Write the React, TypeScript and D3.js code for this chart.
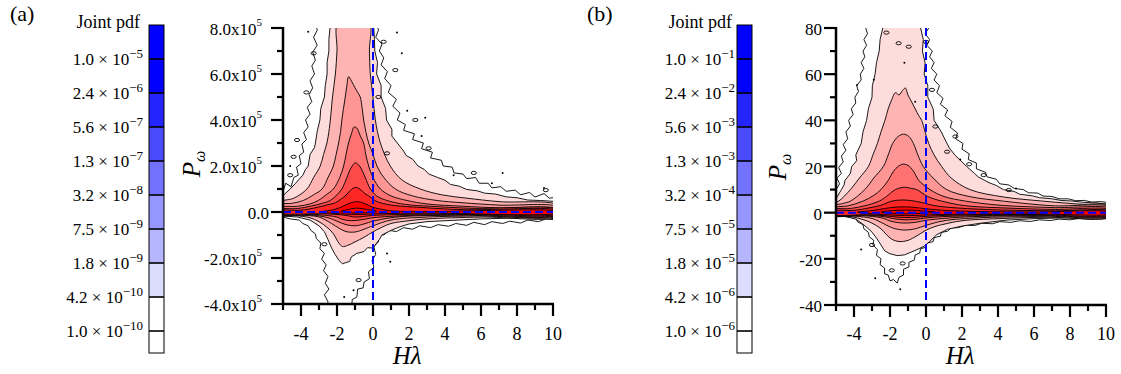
import * as d3 from 'd3'

type Pt = [number, number]

const FONT = 'Liberation Serif, DejaVu Serif, serif'

// contour fills, outermost level first (the outer level is white)
const levelFills = ['#ffffff', '#ffdcdc', '#ffb4b4', '#ff9696', '#ff7272', '#ff4a4a', '#ff2626', '#ff0000', '#ff0000']

// colour bar, top segment first
const barColors = ['#0000ff', '#0000ff', '#2424ff', '#4a4aff', '#7272ff', '#9696ff', '#b6b6ff', '#dcdcff', '#ffffff', '#ffffff']
const barMantissas = ['1.0', '2.4', '5.6', '1.3', '3.2', '7.5', '1.8', '4.2', '1.0']
const barExponentsA = ['−5', '−6', '−7', '−7', '−8', '−9', '−9', '−10', '−10']
const barExponentsB = ['−1', '−2', '−3', '−3', '−4', '−5', '−5', '−6', '−6']

const hTicks = [-5, -4, -3, -2, -1, 0, 1, 2, 3, 4, 5, 6, 7, 8, 9, 10]
const hLabels = ['-4', '-2', '0', '2', '4', '6', '8', '10']
const hLabelValues = [-4, -2, 0, 2, 4, 6, 8, 10]

// panel (a): P in units of 1e5
const aYTicks = [-4, -3, -2, -1, 0, 1, 2, 3, 4, 5, 6, 7, 8]
const aYLabelValues = [-4, -2, 0, 2, 4, 6, 8]
const aYLabels = ['-4.0x10', '-2.0x10', '0.0', '2.0x10', '4.0x10', '6.0x10', '8.0x10']
const aYExp = ['5', '5', '', '5', '5', '5', '5']

// panel (b)
const bYTicks = [-40, -30, -20, -10, 0, 10, 20, 30, 40, 50, 60, 70, 80]
const bYLabelValues = [-40, -20, 0, 20, 40, 60, 80]
const bYLabels = ['-40', '-20', '0', '20', '40', '60', '80']
const bYExp = ['', '', '', '', '', '', '']

// ---- panel (a) contour levels (Hλ, P/1e5) ----
const aL0: Pt[] = [[-5.3, -0.2], [-5.3, 0.6], [-5.0, 0.9], [-4.85, 1.25], [-4.55, 1.1], [-4.4, 1.5], [-4.15, 1.6], [-4.25, 1.95], [-4.0, 2.1], [-4.1, 2.45], [-3.85, 2.6], [-3.95, 2.95], [-3.7, 3.15], [-3.85, 3.45], [-3.6, 3.7], [-3.75, 4.0], [-3.5, 4.25], [-3.65, 4.55], [-3.4, 4.8], [-3.55, 5.1], [-3.35, 5.4], [-3.5, 5.7], [-3.25, 6.0], [-3.4, 6.35], [-3.2, 6.6], [-3.35, 6.95], [-3.1, 7.25], [-3.3, 7.6], [-3.1, 7.9], [-3.2, 8.3],
  [0.2, 8.3], [0.3, 7.9], [0.15, 7.6], [0.5, 7.3], [0.35, 7.0], [0.6, 6.7], [0.45, 6.4], [0.8, 6.1], [0.65, 5.8], [1.0, 5.5], [0.85, 5.2], [1.3, 4.9], [1.1, 4.6], [1.5, 4.3], [1.35, 4.0], [1.8, 3.8], [1.7, 3.55], [2.3, 3.4], [2.2, 3.15], [2.8, 3.0], [2.7, 2.75], [3.3, 2.6], [3.2, 2.35], [3.8, 2.25], [3.9, 2.0], [4.4, 1.95], [4.5, 1.7], [5.0, 1.65], [5.2, 1.45], [5.7, 1.5], [5.9, 1.25], [6.4, 1.25], [6.6, 1.05], [7.1, 1.1], [7.4, 0.9], [7.9, 0.95], [8.2, 0.75], [8.7, 0.85], [9.0, 0.65], [9.5, 0.8], [9.8, 0.6], [10.3, 0.65],
  [10.3, -0.35], [9.6, -0.3], [9.2, -0.42], [8.6, -0.35], [8.2, -0.48], [7.6, -0.4], [7.2, -0.5], [6.6, -0.42], [6.2, -0.55], [5.6, -0.45], [5.2, -0.58], [4.6, -0.5], [4.2, -0.62], [3.6, -0.55], [3.2, -0.68], [2.6, -0.6], [2.2, -0.75], [1.7, -0.68], [1.3, -0.85], [0.9, -0.8], [0.6, -1.0], [0.35, -0.95], [0.3, -1.3], [0.05, -1.5], [0.15, -1.85], [-0.05, -2.1], [0.05, -2.4], [-0.25, -2.6], [-0.2, -2.9], [-0.5, -3.05], [-0.55, -3.3], [-0.85, -3.35], [-0.9, -3.7], [-1.15, -3.8], [-1.2, -4.2],
  [-2.6, -4.2], [-2.5, -3.9], [-2.7, -3.6], [-2.45, -3.35], [-2.65, -3.1], [-2.5, -2.8], [-2.75, -2.55], [-2.6, -2.3], [-2.85, -2.05], [-2.7, -1.8], [-2.95, -1.6], [-2.9, -1.35], [-3.15, -1.15], [-3.2, -0.95], [-3.45, -0.8], [-3.6, -0.6], [-3.9, -0.5], [-4.1, -0.35], [-4.6, -0.3], [-5.0, -0.22]]
const aL1: Pt[] = [[-5.3, -0.15], [-5.3, 0.5], [-4.6, 1.0], [-4.3, 1.25], [-3.9, 1.6], [-3.75, 1.85], [-3.6, 2.0], [-3.5, 2.5], [-3.25, 2.8], [-3.2, 3.0], [-3.1, 3.5], [-2.95, 4.0], [-2.9, 4.5], [-2.7, 5.0], [-2.65, 5.5], [-2.55, 6.0], [-2.55, 6.5], [-2.45, 7.0], [-2.45, 7.5], [-2.35, 8.3],
  [0.02, 8.3], [0.08, 7.5], [0.1, 7.0], [0.25, 6.5], [0.2, 6.0], [0.45, 5.5], [0.45, 5.0], [0.7, 4.5], [0.75, 4.0], [1.05, 3.6], [1.05, 3.3], [1.35, 3.0], [1.7, 2.65], [1.85, 2.45], [2.2, 2.3], [2.5, 2.0], [2.85, 1.85], [3.1, 1.65], [3.6, 1.5], [4.0, 1.38], [4.3, 1.2], [4.8, 1.12], [5.2, 0.98], [5.8, 0.92], [6.2, 0.82], [6.8, 0.78], [7.4, 0.66], [8.0, 0.62], [8.6, 0.52], [9.3, 0.5], [10.3, 0.45],
  [10.3, -0.22], [8, -0.26], [6, -0.3], [4.5, -0.36], [3, -0.42], [2, -0.52], [1.5, -0.64], [1.0, -0.8], [0.5, -1.0], [0.35, -1.2], [0.2, -1.35], [0, -1.57], [-0.3, -1.55], [-0.5, -1.72], [-0.9, -1.8], [-1.2, -1.95], [-1.3, -2.15], [-1.5, -2.2], [-1.7, -2.25], [-1.9, -2.1], [-2.1, -1.85], [-2.3, -1.57], [-2.5, -1.2], [-2.7, -0.86], [-3.0, -0.6], [-3.5, -0.35], [-4.2, -0.22]]
const aL2: Pt[] = [[-5.3, -0.12], [-5.3, 0.4], [-4.4, 0.6], [-3.67, 1.0], [-3.3, 1.5], [-2.93, 2.0], [-2.75, 2.5], [-2.56, 3.0], [-2.45, 3.5], [-2.37, 4.0], [-2.25, 5.0], [-2.09, 6.0], [-2.0, 7.0], [-1.91, 8.3],
  [-0.24, 8.3], [-0.2, 7.0], [-0.15, 6.0], [0.0, 5.0], [0.13, 4.0], [0.41, 3.0], [0.96, 2.0], [1.6, 1.4], [2.63, 1.0], [3.8, 0.75], [5.22, 0.6], [7, 0.45], [10.3, 0.28],
  [10.3, -0.18], [6, -0.22], [3, -0.3], [2, -0.38], [1, -0.5], [0.4, -0.7], [0, -0.86], [-0.5, -1.1], [-1.0, -1.3], [-1.4, -1.45], [-1.7, -1.5], [-1.9, -1.35], [-2.0, -1.22], [-2.2, -0.95], [-2.5, -0.7], [-3.0, -0.42], [-3.5, -0.25], [-4.3, -0.16]]
const aL3: Pt[] = [[-5.3, -0.1], [-5.3, 0.3], [-4.5, 0.38], [-3.87, 0.5], [-3.3, 0.75], [-2.83, 1.0], [-2.5, 1.5], [-2.2, 2.0], [-2.05, 2.5], [-1.91, 3.0], [-1.8, 3.5], [-1.73, 4.0], [-1.64, 4.5], [-1.54, 5.0], [-1.45, 5.5], [-1.36, 5.88], [-1.2, 5.7], [-1.0, 5.4], [-0.85, 5.2], [-0.71, 5.0], [-0.6, 4.5], [-0.52, 4.0], [-0.4, 3.5], [-0.24, 3.0], [0.0, 2.5], [0.22, 2.0], [0.6, 1.5], [1.24, 1.0], [2.2, 0.7], [3.56, 0.5], [5, 0.4], [7, 0.3], [10.3, 0.2],
  [10.3, -0.15], [6, -0.17], [3, -0.22], [1, -0.35], [0, -0.6], [-0.5, -0.75], [-1.0, -0.87], [-1.5, -0.85], [-1.9, -0.7], [-2.3, -0.5], [-3.0, -0.22], [-4, -0.14]]
const aL4: Pt[] = [[-5.3, -0.08], [-5.3, 0.18], [-4.2, 0.25], [-3.5, 0.35], [-3.04, 0.5], [-2.6, 0.75], [-2.2, 1.0], [-1.85, 1.5], [-1.63, 2.0], [-1.5, 2.5], [-1.36, 3.0], [-1.2, 3.4], [-1.05, 3.7], [-0.9, 3.65], [-0.7, 3.3], [-0.52, 3.0], [-0.4, 2.5], [-0.24, 2.0], [0.0, 1.5], [0.41, 1.0], [1.0, 0.7], [1.89, 0.5], [3, 0.35], [5, 0.25], [7, 0.18], [10.3, 0.12],
  [10.3, -0.12], [5, -0.14], [2, -0.18], [1, -0.25], [0, -0.4], [-0.5, -0.52], [-1.0, -0.6], [-1.5, -0.55], [-2.0, -0.4], [-2.5, -0.25], [-3.5, -0.12]]
const aL5: Pt[] = [[-5.3, -0.06], [-5.3, 0.1], [-4.2, 0.15], [-3.48, 0.25], [-2.8, 0.38], [-2.37, 0.5], [-2.0, 0.75], [-1.73, 1.0], [-1.45, 1.5], [-1.2, 1.95], [-0.98, 2.14], [-0.75, 2.0], [-0.43, 1.5], [-0.15, 1.0], [0.2, 0.7], [0.78, 0.5], [1.8, 0.33], [3.2, 0.25], [5.5, 0.16], [10.3, 0.1],
  [10.3, -0.1], [5, -0.11], [2, -0.15], [0, -0.25], [-0.6, -0.33], [-1.2, -0.38], [-1.7, -0.32], [-2.0, -0.22], [-3.0, -0.12]]
const aL6: Pt[] = [[-5.3, -0.04], [-5.3, 0.05], [-4, 0.08], [-3.1, 0.2], [-2.5, 0.32], [-2.09, 0.4], [-1.8, 0.55], [-1.54, 0.7], [-1.25, 0.95], [-0.98, 1.07], [-0.7, 0.98], [-0.45, 0.8], [-0.24, 0.7], [0.1, 0.5], [0.41, 0.4], [1.2, 0.28], [2.63, 0.2], [5, 0.1], [10.3, 0.06],
  [10.3, -0.07], [5, -0.08], [2, -0.1], [0, -0.15], [-1.0, -0.22], [-1.5, -0.15], [-2.5, -0.08]]
const aL7: Pt[] = [[-3.0, 0.0], [-2.3, 0.08], [-1.8, 0.2], [-1.3, 0.38], [-0.89, 0.45], [-0.5, 0.38], [0.0, 0.2], [0.6, 0.1], [1.0, 0.05], [3, 0.02], [10.3, 0.02], [10.3, -0.04], [3, -0.05], [0.5, -0.07], [-0.5, -0.1], [-1.3, -0.1], [-2.3, -0.05]]
const aL8: Pt[] = [[-1.8, 0.02], [-1.3, 0.12], [-0.9, 0.17], [-0.4, 0.12], [0.2, 0.03], [-0.4, -0.03], [-1.2, -0.04]]
const aLevels = [aL0, aL1, aL2, aL3, aL4, aL5, aL6, aL7, aL8]
const aLoops: Pt[] = [[-3.3, 6.9], [-4.41, 2.4], [-4.22, 3.13], [0.59, 7.4], [1.24, 6.17], [0.78, 2.55], [2.35, 4.0], [3.09, 2.77], [-2.7, -1.4], [-0.8, -2.96], [-3.7, 5.2], [0.3, 5.0], [-4.6, 1.6], [5.6, 1.7], [9.6, 0.95]]
const aDots: Pt[] = [[-3.6, 7.84], [1.33, 7.8], [1.6, 6.9], [2.9, 4.1], [4.48, 1.6], [6.6, 1.25], [9.5, 1.04], [7.2, 1.7], [0.78, -1.8], [0.96, -2.16], [-1.08, -3.4], [-4.6, 2.0], [1.9, 4.4], [2.7, 3.3], [-1.6, -3.7]]

// ---- panel (b) contour levels (Hλ, P) ----
const bL0: Pt[] = [[-5.3, -1.5], [-5.3, 9], [-5.0, 10], [-4.8, 12.5], [-4.95, 15], [-4.7, 17], [-4.85, 19.5], [-4.6, 22], [-4.7, 24.5], [-4.45, 27], [-4.6, 29.5], [-4.35, 32], [-4.45, 35], [-4.2, 37.5], [-4.3, 40], [-4.05, 42.5], [-4.15, 45], [-3.9, 47.5], [-3.95, 50], [-3.75, 52.5], [-3.85, 55], [-3.6, 57.5], [-3.65, 60], [-3.45, 62.5], [-3.6, 65], [-3.4, 67.5], [-3.5, 70], [-3.3, 72.5], [-3.45, 75], [-3.25, 77.5], [-3.35, 80], [-3.25, 83],
  [0.05, 83], [0.15, 80], [-0.05, 77.5], [0.2, 75], [0.05, 72.5], [0.35, 70], [0.2, 67.5], [0.45, 65], [0.3, 62.5], [0.6, 60], [0.45, 57.5], [0.75, 55], [0.6, 52], [0.95, 49.5], [0.8, 47], [1.2, 44.5], [1.05, 42], [1.45, 39.5], [1.35, 37], [1.75, 34.5], [1.65, 32], [2.05, 30], [2.0, 27.5], [2.4, 25.5], [2.35, 23], [2.8, 21.5], [2.8, 19], [3.3, 17.5], [3.4, 15.5], [3.9, 14.5], [4.1, 12.5], [4.6, 12], [4.9, 10.5], [5.4, 10], [5.7, 8.6], [6.2, 8.5], [6.5, 7.2], [7.0, 7.0], [7.4, 6.0], [7.9, 6.0], [8.3, 5.2], [8.8, 5.3], [9.2, 4.6], [9.7, 4.8], [10.3, 4.2],
  [10.3, -2.5], [9.6, -2.3], [9.2, -2.8], [8.5, -2.5], [8.0, -3.1], [7.4, -2.8], [6.9, -3.4], [6.3, -3.1], [5.8, -3.8], [5.2, -3.5], [4.7, -4.2], [4.1, -3.9], [3.7, -4.8], [3.1, -4.6], [2.7, -5.6], [2.2, -5.4], [1.8, -6.5], [1.4, -6.6], [1.2, -8.0], [0.85, -8.6], [0.8, -10.2], [0.45, -10.8], [0.4, -12.5], [0.05, -13.2], [0.0, -15.0], [-0.3, -15.6], [-0.35, -17.5], [-0.6, -18.3], [-0.65, -20.5], [-0.95, -21.5], [-0.95, -23.5], [-1.25, -24.5], [-1.25, -27], [-1.5, -28], [-1.6, -30.5], [-1.8, -29], [-2.0, -29.5], [-2.1, -27], [-2.3, -26.5], [-2.3, -24], [-2.55, -22.5], [-2.5, -20], [-2.75, -18.5], [-2.7, -16], [-2.95, -14], [-2.9, -12], [-3.15, -10.5], [-3.2, -8.5], [-3.45, -7.0], [-3.5, -5.2], [-3.8, -4.0], [-3.9, -2.5], [-4.3, -1.8], [-4.8, -1.6]]
const bL1: Pt[] = [[-5.3, -1.3], [-5.3, 4.5], [-5.0, 6], [-4.7, 10], [-4.55, 12], [-4.5, 14], [-4.2, 17], [-4.13, 20], [-3.85, 22.5], [-3.9, 25], [-3.6, 30], [-3.5, 35], [-3.3, 40], [-3.2, 45], [-3.0, 50], [-2.98, 55], [-2.83, 60], [-2.75, 65], [-2.6, 70], [-2.55, 75], [-2.4, 80], [-2.4, 83],
  [-0.3, 83], [-0.3, 80], [-0.15, 75], [-0.2, 70], [-0.05, 65], [-0.1, 60], [0.1, 55], [0.1, 50], [0.4, 45], [0.45, 40], [0.85, 35], [1.1, 31], [1.3, 28], [1.6, 25], [2.0, 22], [2.26, 20], [2.7, 17], [2.9, 15.5], [3.5, 13], [3.9, 11.8], [4.3, 10], [4.9, 9.2], [5.2, 8], [5.9, 7.3], [6.3, 6.5], [7.0, 6.0], [7.5, 5.3], [8.2, 5.0], [8.7, 4.5], [9.5, 4.2], [10.3, 3.5],
  [10.3, -2.0], [8, -2.2], [6, -2.6], [4.5, -3.2], [3, -4.6], [2, -5.8], [1.2, -7.2], [0.6, -9.5], [0.2, -12.5], [-0.1, -14.5], [-0.5, -16], [-0.8, -17], [-1.2, -18.3], [-1.6, -18.6], [-2.0, -17.8], [-2.3, -16.5], [-2.5, -14], [-2.75, -11], [-3.05, -8], [-3.45, -5.3], [-3.9, -2.8], [-4.5, -1.6]]
const bL2: Pt[] = [[-5.3, -1.1], [-5.3, 3.5], [-4.85, 5], [-4.2, 10], [-3.7, 15], [-3.2, 20], [-2.95, 25], [-2.7, 30], [-2.5, 35], [-2.28, 40], [-2.1, 45], [-1.9, 49], [-1.7, 52], [-1.5, 51], [-1.3, 53], [-1.15, 54], [-1.0, 51], [-0.8, 48], [-0.6, 45], [-0.4, 42], [-0.24, 40], [-0.05, 35], [0.15, 30], [0.45, 25], [0.87, 20], [1.4, 15], [2.44, 10], [4.3, 6.8], [6.5, 5], [8.5, 3.7], [10.3, 2.8],
  [10.3, -1.7], [7, -1.9], [4, -2.6], [2, -3.5], [1.0, -5], [0.5, -6], [0, -7.6], [-0.5, -10], [-1.0, -12], [-1.5, -12.5], [-1.9, -11.5], [-2.2, -9.5], [-2.5, -7], [-3.0, -4.5], [-3.5, -3], [-4.2, -1.7]]
const bL3: Pt[] = [[-5.3, -1.0], [-5.3, 2.5], [-4.6, 4], [-4.2, 5], [-3.4, 10], [-2.9, 15], [-2.37, 20], [-2.1, 25], [-1.85, 30], [-1.55, 33], [-1.24, 34], [-0.95, 33], [-0.7, 30], [-0.45, 25], [-0.15, 20], [0.4, 15], [1.15, 10], [2.4, 7], [4.3, 5], [7, 3], [10.3, 2.2],
  [10.3, -1.5], [6, -1.7], [3, -2.2], [1, -3.5], [0, -5.5], [-0.6, -7], [-1.3, -7.5], [-1.9, -6.5], [-2.3, -5], [-3.0, -2.5], [-4, -1.5]]
const bL4: Pt[] = [[-5.3, -0.9], [-5.3, 1.8], [-4.3, 3], [-3.5, 5], [-2.9, 7.5], [-2.5, 10], [-2.1, 14], [-1.8, 18], [-1.55, 20], [-1.3, 21], [-1.0, 20.5], [-0.7, 18], [-0.4, 14], [0.22, 10], [1.0, 7], [2.2, 5], [4, 3.3], [7, 2.2], [10.3, 1.6],
  [10.3, -1.2], [6, -1.3], [3, -1.6], [1.5, -2.2], [0, -3.3], [-0.6, -4.2], [-1.3, -4.5], [-1.9, -3.8], [-2.5, -2.2], [-3.5, -1.3]]
const bL5: Pt[] = [[-5.3, -0.8], [-5.3, 1.2], [-4.2, 1.8], [-3.4, 3], [-2.6, 5], [-2.2, 7], [-1.7, 10], [-1.2, 11], [-0.8, 10.5], [-0.52, 10], [0.1, 7], [0.87, 5], [2.2, 3], [4.5, 2], [7, 1.4], [10.3, 1.1],
  [10.3, -1.0], [6, -1.05], [3, -1.3], [1.0, -1.7], [0, -2.3], [-0.6, -2.9], [-1.2, -3.1], [-1.8, -2.6], [-2.3, -1.8], [-3.3, -1.1]]
const bL6: Pt[] = [[-5.3, -0.7], [-5.3, 0.6], [-4, 1.0], [-3.2, 2], [-2.5, 3.2], [-1.9, 5], [-1.3, 5.5], [-0.8, 5.2], [-0.24, 4.4], [0.5, 3], [1.8, 2], [4, 1.2], [7, 0.8], [10.3, 0.6],
  [10.3, -0.8], [6, -0.8], [3, -0.9], [1.0, -1.2], [0, -1.6], [-0.8, -2.1], [-1.5, -2.0], [-2.2, -1.4], [-3.2, -0.9]]
const bL7: Pt[] = [[-3.8, 0.2], [-3.0, 0.9], [-2.3, 1.8], [-1.5, 2.5], [-0.8, 2.4], [0, 1.7], [1.0, 1.0], [3, 0.5], [6, 0.3], [10.3, 0.2], [10.3, -0.5], [6, -0.5], [3, -0.6], [1, -0.8], [0, -1.0], [-1.0, -1.3], [-2.0, -1.0], [-3.0, -0.5]]
const bL8: Pt[] = [[-2.5, 0.3], [-1.8, 0.9], [-1.0, 1.1], [-0.3, 0.8], [0.5, 0.3], [-0.3, -0.3], [-1.2, -0.5], [-2.0, -0.2]]
const bLevels = [bL0, bL1, bL2, bL3, bL4, bL5, bL6, bL7, bL8]
const bLoops: Pt[] = [[-0.96, 71.9], [-1.52, 73.4], [0.0, 74], [0.33, 53.2], [0.52, 37.3], [1.63, 33], [1.17, 26.4], [3.2, 16.3], [-3.0, -14], [-1.3, -22], [-2.2, 78], [2.4, 21], [-1.9, -25], [4.6, 9.8]]
const bDots: Pt[] = [[-3.83, 55.3], [-2.9, 57.6], [-1.2, 65], [-2.82, -28.4], [-1.43, -33.2], [5.0, 10.5], [-0.6, 48], [1.9, 23], [-3.6, -16]]

function ColorBar({ x0, labelRight, exponents }: { x0: number; labelRight: number; exponents: string[] }) {
  const y = d3.scaleLinear().domain([0, 10]).range([25, 365])
  const bottom = 353
  return (
    <g>
      {barColors.map((c, i) => (
        <rect key={i} x={x0} y={y(i)} width={15} height={Math.min(y(i + 1), bottom) - y(i)} fill={c} />
      ))}
      {barMantissas.map((_, i) => (
        <line key={i} x1={x0} x2={x0 + 15} y1={y(i + 1)} y2={y(i + 1)} stroke="#000" strokeWidth={1.6} />
      ))}
      <rect x={x0} y={y(0)} width={15} height={bottom - y(0)} fill="none" stroke="#000" strokeWidth={1} />
      {barMantissas.map((m, i) => (
        <text key={i} x={labelRight} y={y(i + 1) + 6} textAnchor="end" fontSize={17} fontFamily={FONT}>
          {m} × 10<tspan dy={-7} fontSize={13}>{exponents[i]}</tspan>
        </text>
      ))}
      <text x={labelRight - 3} y={28} textAnchor="end" fontSize={18} fontFamily={FONT}>Joint pdf</text>
    </g>
  )
}

function Panel(props: {
  id: string; left: number; top: number; w: number; h: number
  yDomain: [number, number]; levels: Pt[][]; loops: Pt[]; dots: Pt[]
  yTicks: number[]; yLabelValues: number[]; yLabels: string[]; yExp: string[]
  ylabelX: number; ylabelY: number
}) {
  const { id, left, top, w, h } = props
  const x = d3.scaleLinear().domain([-5, 10]).range([left, left + w])
  const y = d3.scaleLinear().domain(props.yDomain).range([top + h, top])
  const bottom = top + h
  const outer = d3.line<Pt>().x(d => x(d[0])).y(d => y(d[1])).curve(d3.curveLinearClosed)
  const inner = d3.line<Pt>().x(d => x(d[0])).y(d => y(d[1])).curve(d3.curveCatmullRomClosed.alpha(0.5))
  const yMajor = new Set(props.yLabelValues)
  return (
    <g>
      <defs>
        <clipPath id={id}><rect x={left} y={top} width={w} height={h} /></clipPath>
      </defs>
      <g clipPath={`url(#${id})`}>
        {props.levels.map((pts, i) => (
          <path key={i} d={(i < 2 ? outer : inner)(pts) ?? ''} fill={levelFills[i]} stroke="#000" strokeWidth={0.9} strokeLinejoin="round" />
        ))}
        {props.loops.map((p, i) => (
          <ellipse key={i} cx={x(p[0])} cy={y(p[1])} rx={2.6} ry={1.6} fill="none" stroke="#000" strokeWidth={0.9} />
        ))}
        {props.dots.map((p, i) => (
          <circle key={i} cx={x(p[0])} cy={y(p[1])} r={1} fill="#000" />
        ))}
        <line x1={x(-5)} x2={x(10)} y1={y(0)} y2={y(0)} stroke="#0000ff" strokeWidth={2} strokeDasharray="8,4" />
        <line x1={x(0)} x2={x(0)} y1={top} y2={bottom} stroke="#0000ff" strokeWidth={2} strokeDasharray="8,4" />
      </g>
      {/* axes */}
      <line x1={left} x2={left} y1={top - 1} y2={bottom + 1} stroke="#000" strokeWidth={2.5} />
      <line x1={left - 1} x2={left + w + 1} y1={bottom} y2={bottom} stroke="#000" strokeWidth={2.5} />
      {props.yTicks.map(v => (
        <line key={v} x1={left - (yMajor.has(v) ? 12 : 6)} x2={left} y1={y(v)} y2={y(v)} stroke="#000" strokeWidth={2.2} />
      ))}
      {hTicks.map(v => (
        <line key={v} x1={x(v)} x2={x(v)} y1={bottom} y2={bottom + (v % 2 === 0 ? 12 : 6)} stroke="#000" strokeWidth={2.2} />
      ))}
      {props.yLabelValues.map((v, i) => (
        <text key={v} x={left - (props.yExp[i] ? 21 : 14)} y={y(v) + 7} textAnchor="end" fontSize={17} fontFamily={FONT}>
          {props.yLabels[i]}
          {props.yExp[i] ? <tspan dy={-9} fontSize={11}>{props.yExp[i]}</tspan> : null}
        </text>
      ))}
      {hLabelValues.map((v, i) => (
        <text key={v} x={x(v)} y={340} textAnchor="middle" fontSize={18} fontFamily={FONT}>{hLabels[i]}</text>
      ))}
      <text x={left + w * 0.46} y={364} textAnchor="middle" fontSize={25} fontStyle="italic" fontFamily={FONT}>Hλ</text>
      <text transform={`translate(${props.ylabelX},${props.ylabelY}) rotate(-90)`} textAnchor="middle" fontSize={25} fontStyle="italic" fontFamily={FONT}>
        P<tspan dy={5} fontSize={16}>ω</tspan>
      </text>
    </g>
  )
}

export default function App() {
  return (
    <svg width={1121} height={374} style={{ position: 'absolute', left: 0, top: 0, background: '#fff' }}>
      <rect width={1121} height={374} fill="#fff" />
      <text x={10} y={21} fontSize={22} fontFamily={FONT}>(a)</text>
      <text x={587} y={21} fontSize={22} fontFamily={FONT}>(b)</text>
      <ColorBar x0={149} labelRight={143} exponents={barExponentsA} />
      <ColorBar x0={737} labelRight={735} exponents={barExponentsB} />
      <Panel id="clipA" left={283} top={28} w={270} h={276} yDomain={[-4, 8]} levels={aLevels} loops={aLoops} dots={aDots}
        yTicks={aYTicks} yLabelValues={aYLabelValues} yLabels={aYLabels} yExp={aYExp} ylabelX={200} ylabelY={164} />
      <Panel id="clipB" left={836} top={28} w={270} h={277} yDomain={[-40, 80]} levels={bLevels} loops={bLoops} dots={bDots}
        yTicks={bYTicks} yLabelValues={bYLabelValues} yLabels={bYLabels} yExp={bYExp} ylabelX={786} ylabelY={167} />
    </svg>
  )
}
